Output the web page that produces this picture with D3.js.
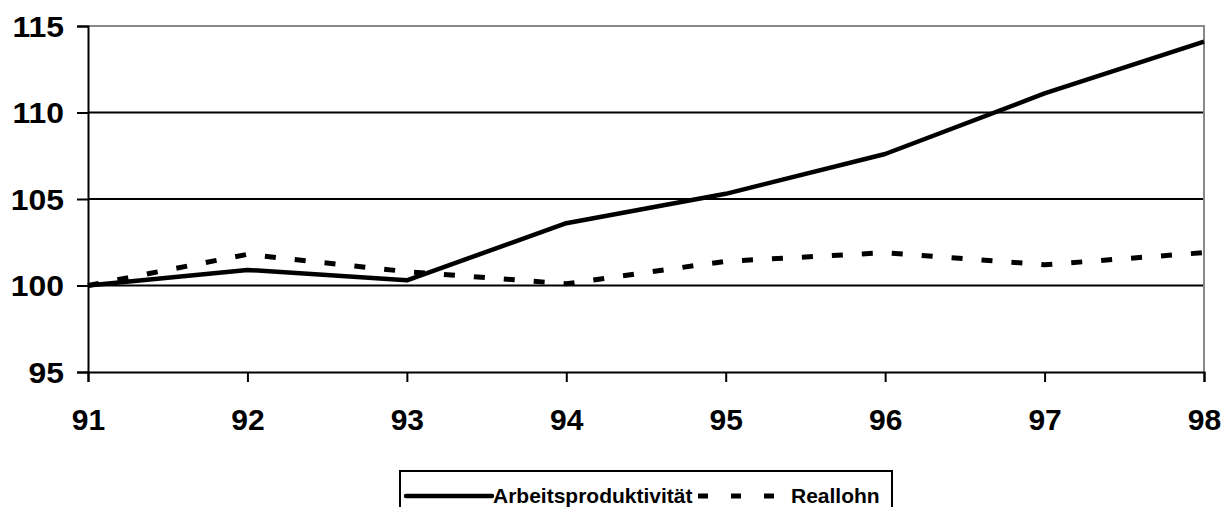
<!DOCTYPE html>
<html>
<head>
<meta charset="utf-8">
<script src="https://cdn.jsdelivr.net/npm/d3@7"></script>
<style>
  html, body { margin: 0; padding: 0; background: #fff; }
  svg { display: block; }
  text { font-family: "Liberation Sans", Arial, sans-serif; font-weight: bold; }
</style>
</head>
<body>
<svg id="chart" width="1232" height="507"></svg>
<script>
const years = ["91", "92", "93", "94", "95", "96", "97", "98"];
const arbeitsproduktivitaet = [100, 100.9, 100.3, 103.6, 105.3, 107.6, 111.1, 114.1];
const reallohn = [100, 101.8, 100.8, 100.1, 101.4, 101.9, 101.2, 101.9];
const yTicks = [95, 100, 105, 110, 115];
const seriesNames = ["Arbeitsproduktivität", "Reallohn"];

(function () {
const svg = d3.select("#chart");
const pLeft = 88, pRight = 1204, pTop = 26, pBottom = 372;
const FONT = '"Liberation Sans", Arial, sans-serif';

const x = d3.scalePoint().domain(years).range([pLeft, pRight]);
const y = d3.scaleLinear().domain([95, 115]).range([pBottom, pTop]);

// gridlines
svg.append("g").selectAll("line")
  .data(yTicks.filter(d => d > 95 && d < 115))
  .join("line")
  .attr("x1", pLeft).attr("x2", pRight)
  .attr("y1", d => y(d)).attr("y2", d => y(d))
  .attr("stroke", "#000").attr("stroke-width", 2);

// plot area border (top & right, gray)
svg.append("path")
  .attr("d", `M${pLeft},${y(115)}H${pRight}V${pBottom}`)
  .attr("fill", "none").attr("stroke", "#888").attr("stroke-width", 2);

// y axis
const ySX = 1.1;
const yAxis = d3.axisLeft(y).tickValues(yTicks).tickSize(11).tickFormat(d3.format("d"));
const gy = svg.append("g").attr("transform", `translate(${pLeft},0)`).call(yAxis)
  .attr("font-family", FONT).attr("font-size", null);
gy.select(".domain").attr("stroke", "#000").attr("stroke-width", 2);
gy.selectAll(".tick line").attr("stroke", "#000").attr("stroke-width", 2);
gy.selectAll(".tick text")
  .attr("fill", "#000")
  .style("font-family", FONT)
  .style("font-size", "29px").style("font-weight", "bold")
  .attr("transform", `scale(${ySX},1)`)
  .attr("x", -24 / ySX)
  .attr("dy", "0.35em");

// x axis
const xAxis = d3.axisBottom(x).tickSize(10).tickPadding(22);
const gx = svg.append("g").attr("transform", `translate(0,${pBottom})`).call(xAxis)
  .attr("font-family", FONT).attr("font-size", null);
gx.select(".domain").attr("stroke", "#000").attr("stroke-width", 2);
gx.selectAll(".tick line").attr("stroke", "#000").attr("stroke-width", 2);
gx.selectAll(".tick text")
  .attr("fill", "#000")
  .style("font-family", FONT)
  .style("font-size", "30px").style("font-weight", "bold")
  .attr("y", 0).attr("dy", 0)
  .attr("transform", "translate(0,58)");

// lines
const line = d3.line().x((d, i) => x(years[i])).y(d => y(d));
svg.append("path").datum(reallohn)
  .attr("d", line).attr("fill", "none")
  .attr("stroke", "#000").attr("stroke-width", 5)
  .attr("stroke-dasharray", "11,19");
svg.append("path").datum(arbeitsproduktivitaet)
  .attr("d", line).attr("fill", "none")
  .attr("stroke", "#000").attr("stroke-width", 4.5)
  .attr("stroke-linejoin", "round");

// legend
const lg = svg.append("g");
lg.append("rect").attr("x", 400).attr("y", 471).attr("width", 492).attr("height", 60)
  .attr("fill", "#fff").attr("stroke", "#000").attr("stroke-width", 2);
lg.append("line").attr("x1", 406).attr("x2", 492).attr("y1", 496).attr("y2", 496)
  .attr("stroke", "#000").attr("stroke-width", 4.5).attr("stroke-linecap", "round");
lg.append("text").attr("x", 493).attr("y", 503)
  .style("font-size", "21px").text(seriesNames[0]);
lg.append("line").attr("x1", 698).attr("x2", 774).attr("y1", 496).attr("y2", 496)
  .attr("stroke", "#000").attr("stroke-width", 5).attr("stroke-dasharray", "10,23");
lg.append("text").attr("x", 791).attr("y", 503)
  .style("font-size", "21px").text(seriesNames[1]);
})();
</script>
</body>
</html>
